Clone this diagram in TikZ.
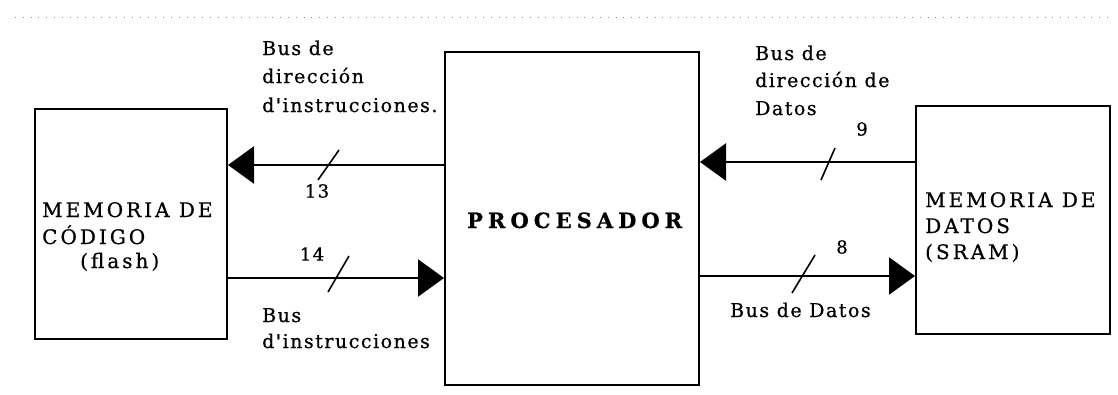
\documentclass[tikz,border=0pt]{standalone}
\usepackage{fontspec}
\setmainfont{DejaVu Serif}[LetterSpace=8,FakeBold=0.7]
\newfontfamily\lblfont{DejaVu Serif}[LetterSpace=8,FakeBold=0.7]
\newfontfamily\capsfont{DejaVu Serif}[LetterSpace=15,FakeBold=0.7]
\newfontfamily\procfont{DejaVu Serif Bold}[LetterSpace=24,FakeBold=0.6]
\usetikzlibrary{arrows.meta}
\begin{document}
\begin{tikzpicture}[x=1pt,y=-1pt,
  box/.style={draw,line width=2pt,inner sep=0pt},
  bus/.style={line width=2.6pt,-{Triangle[length=26pt,width=37pt]}},
  tick/.style={line width=1.6pt},
  lbl/.style={inner sep=0pt,anchor=base west,font=\lblfont\fontsize{19}{28}\selectfont},
  caps/.style={inner sep=0pt,anchor=base west,font=\capsfont\fontsize{20}{26}\selectfont},
  num/.style={inner sep=0pt,font=\lblfont\fontsize{18}{20}\selectfont}]
\useasboundingbox (0,0) rectangle (1118,394);
\fill[white] (0,0) rectangle (1118,394);
\draw[black!45,line width=0.8pt,dash pattern=on 0.8pt off 7pt] (15,17) -- (1110,17);
% boxes
\node[box,minimum width=192pt,minimum height=230pt] (code) at (131,224) {};
\node[box,minimum width=254pt,minimum height=333pt] (proc) at (572,218.5) {};
\node[box,minimum width=194pt,minimum height=228pt] (data) at (1013,220) {};
% box texts
\node[caps] (code1) at (42,217) {MEMORIA DE};
\node[caps] (code2) at (42,244) {CÓDIGO};
\node[caps] (code3) at (80,268) {(flash)};
\node[caps] (data1) at (925,207) {MEMORIA DE};
\node[caps] (data2) at (925,233) {DATOS};
\node[caps] (data3) at (925,259) {(SRAM)};
\node[inner sep=0pt,anchor=base west,font=\procfont\fontsize{21}{24}\selectfont] (proctxt) at (467,228) {PROCESADOR};
% bus levels
\coordinate (yTL) at (0,165);
\coordinate (yBL) at (0,278);
\coordinate (yTR) at (0,162);
\coordinate (yBR) at (0,276);
\draw[bus] (proc.west |- yTL) -- (code.east |- yTL);
\draw[bus] (code.east |- yBL) -- (proc.west |- yBL);
\draw[bus] (data.west |- yTR) -- (proc.east |- yTR);
\draw[bus] (proc.east |- yBR) -- (data.west |- yBR);
% width ticks
\draw[tick] (318,180) -- (339,150);
\draw[tick] (328,292) -- (349,256);
\draw[tick] (821,180) -- (835,148);
\draw[tick] (792,293) -- (815,255);
\node[num] (n13) at (317,191) {13};
\node[num] (n14) at (312,254) {14};
\node[num] (n9) at (862,129) {9};
\node[num] (n8) at (842,247) {8};
% bus labels
\node[lbl] (ltl1) at (262,55) {Bus de};
\node[lbl] (ltl2) at (262,83) {dirección};
\node[lbl] (ltl3) at (262,112) {d'instrucciones.};
\node[lbl] (lbl1) at (262,322) {Bus};
\node[lbl] (lbl2) at (262,348) {d'instrucciones};
\node[lbl] (ltr1) at (755,60) {Bus de};
\node[lbl] (ltr2) at (755,87) {dirección de};
\node[lbl] (ltr3) at (755,115) {Datos};
\node[lbl] (lbr) at (730,317) {Bus de Datos};
\end{tikzpicture}
\end{document}
